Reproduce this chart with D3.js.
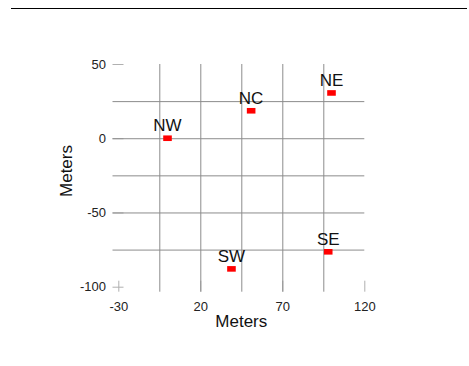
<!DOCTYPE html>
<html>
<head>
<meta charset="utf-8">
<script src="https://cdn.jsdelivr.net/npm/d3@7"></script>
<style>
  body { margin: 0; background: #fff; }
  svg { display: block; font-family: "Liberation Sans", Arial, sans-serif; }
</style>
</head>
<body>
<div id="chart"></div>
<script>
const width = 469, height = 366;

// station positions, meters
const names = ["NW", "NC", "NE", "SW", "SE"];
const eastings = [0, 51, 100, 39, 98];
const northings = [0, 18.5, 30.5, -88, -76.5];

const xLabelTicks = [-30, 20, 70, 120];
const yLabelTicks = [-100, -50, 0, 50];
const xGridTicks = [-5, 20, 45, 70, 95];
const yGridTicks = [-75, -50, -25, 0, 25];

const svg = d3.select("#chart").append("svg")
    .attr("width", width)
    .attr("height", height);

// thin rule along the top
svg.append("line")
    .attr("x1", 11).attr("x2", 467)
    .attr("y1", 8.5).attr("y2", 8.5)
    .attr("stroke", "#000")
    .attr("stroke-width", 1);

const x = d3.scaleLinear().domain([-30, 120]).range([118.3, 364.3]);
const y = d3.scaleLinear().domain([-100, 50]).range([286.7, 64]);

const tickLen = 11;
const leftEdge = x(-30) - 5.8;
const bottomEdge = y(-100) + 5;
const plain = d => String(d); // plain hyphen for negatives

// short tick marks with labels
const yAxis = svg.append("g")
    .attr("transform", `translate(${leftEdge},0)`)
    .call(d3.axisLeft(y).tickValues(yLabelTicks).tickFormat(plain)
        .tickSizeInner(-tickLen).tickSizeOuter(0).tickPadding(6.5));

const xAxis = svg.append("g")
    .attr("transform", `translate(0,${bottomEdge})`)
    .call(d3.axisBottom(x).tickValues(xLabelTicks).tickFormat(plain)
        .tickSizeInner(-tickLen).tickSizeOuter(0).tickPadding(10));

[yAxis, xAxis].forEach(g => {
    g.select(".domain").remove();
    g.selectAll("line").attr("stroke", "#b0b0b0");
    g.selectAll("text")
        .attr("font-family", "Liberation Sans, Arial, sans-serif")
        .attr("font-size", 13)
        .attr("fill", "#222");
});

// grid lines
const yGrid = svg.append("g")
    .attr("transform", `translate(${leftEdge},0)`)
    .call(d3.axisLeft(y).tickValues(yGridTicks).tickSize(-(x(120) - leftEdge)).tickFormat(""));

const xGrid = svg.append("g")
    .attr("transform", `translate(0,${bottomEdge})`)
    .call(d3.axisBottom(x).tickValues(xGridTicks).tickSize(-(bottomEdge - y(50))).tickFormat(""));

[yGrid, xGrid].forEach(g => {
    g.select(".domain").remove();
    g.selectAll("line").attr("stroke", "#8c8c8c");
});

// axis titles
svg.append("text")
    .attr("x", (x(-30) + x(120)) / 2)
    .attr("y", 327)
    .attr("text-anchor", "middle")
    .attr("font-size", 17)
    .attr("fill", "#111")
    .text("Meters");

svg.append("text")
    .attr("transform", `translate(71.5,171) rotate(-90)`)
    .attr("text-anchor", "middle")
    .attr("font-size", 17)
    .attr("fill", "#111")
    .text("Meters");

// stations
const pts = names.map((n, i) => ({ name: n, e: eastings[i], n: northings[i] }));

svg.selectAll(".pt")
    .data(pts)
    .enter().append("rect")
    .attr("class", "pt")
    .attr("x", d => x(d.e) - 4.3)
    .attr("y", d => y(d.n) - 2.8)
    .attr("width", 8.6)
    .attr("height", 5.6)
    .attr("fill", "#ff0000");

svg.selectAll(".lbl")
    .data(pts)
    .enter().append("text")
    .attr("class", "lbl")
    .attr("x", d => x(d.e))
    .attr("y", d => y(d.n) - 7)
    .attr("text-anchor", "middle")
    .attr("font-size", 17)
    .attr("fill", "#111")
    .text(d => d.name);
</script>
</body>
</html>
